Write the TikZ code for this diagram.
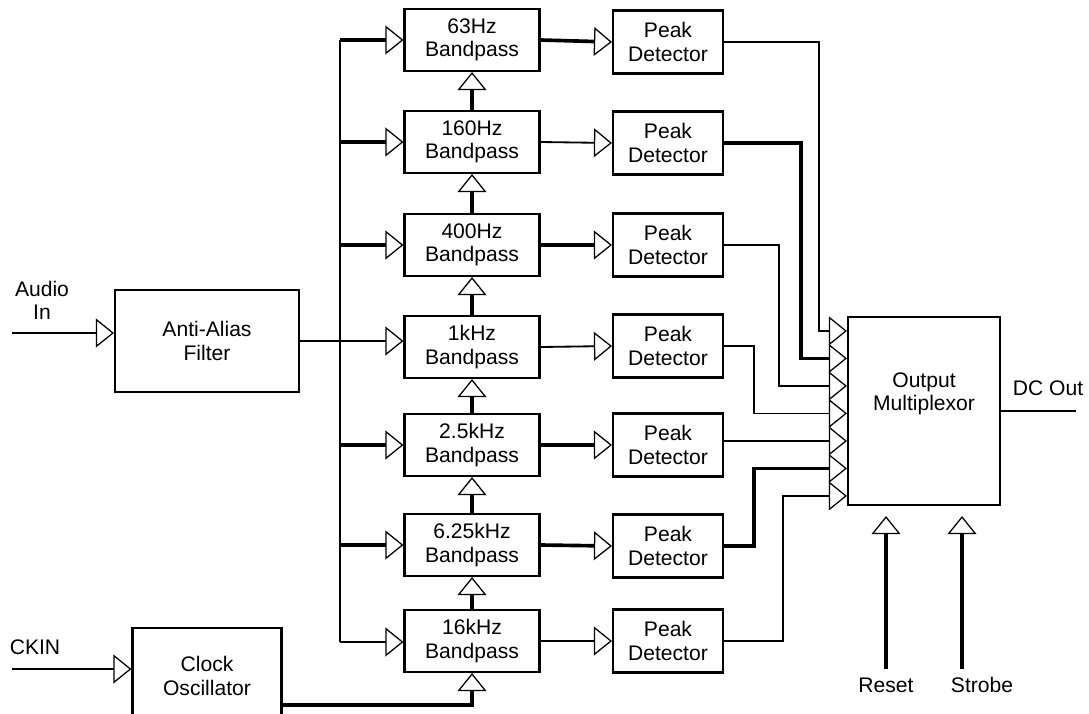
\documentclass[tikz,border=0pt]{standalone}
\usepackage{fontspec}
\setmainfont{Liberation Sans}
\usetikzlibrary{arrows.meta, calc}

\begin{document}
\begin{tikzpicture}[
    x=0.025cm, y=-0.025cm,
    box/.style={draw, line width=1.5pt, inner sep=0pt, align=center,
                font=\fontsize{15}{16.5}\selectfont},
    band/.style={box, minimum width=3.375cm, minimum height=1.55cm},
    peak/.style={box, minimum width=2.75cm, minimum height=1.575cm},
    lbl/.style={inner sep=0pt, align=center, font=\fontsize{15}{16.5}\selectfont},
    wire/.style={line width=1.3pt},
    bold wire/.style={line width=2.6pt},
    >={Triangle[open, length=0.45cm, width=0.72cm, line width=0.9pt]}
  ]
  \useasboundingbox (0,0) rectangle (1089,713);
  \clip (0,0) rectangle (1089,713);

  % filter bank
  \node[band] (b63)   at (472,40)  {63Hz\\Bandpass};
  \node[band] (b160)  at (472,142) {160Hz\\Bandpass};
  \node[band] (b400)  at (472,245) {400Hz\\Bandpass};
  \node[band] (b1k)   at (472,347) {1kHz\\Bandpass};
  \node[band] (b2k5)  at (472,445) {2.5kHz\\Bandpass};
  \node[band] (b6k25) at (472,545) {6.25kHz\\Bandpass};
  \node[band] (b16k)  at (472,641) {16kHz\\Bandpass};

  \node[peak] (p63)   at (668,42)  {Peak\\Detector};
  \node[peak] (p160)  at (668,143) {Peak\\Detector};
  \node[peak] (p400)  at (668,245) {Peak\\Detector};
  \node[peak] (p1k)   at (668,346) {Peak\\Detector};
  \node[peak] (p2k5)  at (668,445) {Peak\\Detector};
  \node[peak] (p6k25) at (668,546) {Peak\\Detector};
  \node[peak] (p16k)  at (668,641) {Peak\\Detector};

  \node[box, minimum width=4.6cm, minimum height=2.55cm] (filt) at (207,341) {Anti-Alias\\Filter};
  \node[box, minimum width=3.725cm, minimum height=2.4cm] (clk) at (207,676) {Clock\\Oscillator};
  \node[box, minimum width=3.8cm, minimum height=4.7cm] (mux) at (924,411) {Output\\Multiplexor\\[6pt]\strut};

  \node[lbl] (audio) at (42,300) {Audio\\In};
  \node[lbl] (ckinlbl) at (35,647) {CKIN};
  \node[lbl] (dclbl) at (1048,388) {DC Out};
  \node[lbl] (reset) at (886,685) {Reset};
  \node[lbl] (strobe) at (982,685) {Strobe};

  % inputs
  \coordinate (ain) at (12,333);
  \coordinate (ckin) at (12,669);
  \draw[wire, ->] (ain) -- (ain -| filt.west);
  \draw[wire, ->] (ckin) -- (ckin -| clk.west);
  \draw[wire, ->] (filt.east) -- (filt.east -| b1k.west);

  % clock bus
  \coordinate (bustop) at (340,40);
  \coordinate (busbot) at (340,642);
  \draw[wire] (bustop) -- (busbot);
  \draw[bold wire, ->] (bustop) -- (b63.west);
  \draw[bold wire, ->] (bustop |- b160.west) -- (b160.west);
  \draw[bold wire, ->] (bustop |- b400.west) -- (b400.west);
  \draw[bold wire, ->] (bustop |- b2k5.west) -- (b2k5.west);
  \draw[bold wire, ->] (bustop |- b6k25.west) -- (b6k25.west);
  \draw[wire, ->] (busbot) -- (busbot -| b16k.west);

  % clock chain
  \draw[bold wire, ->] ($(clk.north east)+(0,78)$) -| (b16k.south);
  \draw[bold wire, ->] (b16k.north) -- (b6k25.south);
  \draw[bold wire, ->] (b6k25.north) -- (b2k5.south);
  \draw[bold wire, ->] (b2k5.north) -- (b1k.south);
  \draw[bold wire, ->] (b1k.north) -- (b400.south);
  \draw[bold wire, ->] (b400.north) -- (b160.south);
  \draw[bold wire, ->] (b160.north) -- (b63.south);

  % bandpass to detector
  \draw[bold wire, ->] (b63.east) -- (p63.west);
  \draw[wire, ->] (b160.east) -- (p160.west);
  \draw[bold wire, ->] (b400.east) -- (p400.west);
  \draw[wire, ->] (b1k.east) -- (p1k.west);
  \draw[bold wire, ->] (b2k5.east) -- (p2k5.west);
  \draw[bold wire, ->] (b6k25.east) -- (p6k25.west);
  \draw[wire, ->] (b16k.east) -- (p16k.west);

  % multiplexor inputs
  \coordinate (m0) at ($(mux.north west)+(0,15)$);
  \coordinate (m1) at ($(mux.north west)+(0,42.5)$);
  \coordinate (m2) at ($(mux.north west)+(0,70)$);
  \coordinate (m3) at ($(mux.north west)+(0,97.5)$);
  \coordinate (m4) at ($(mux.north west)+(0,125)$);
  \coordinate (m5) at ($(mux.north west)+(0,152.5)$);
  \coordinate (m6) at ($(mux.north west)+(0,180)$);
  \draw[wire, ->] (p63.east) -- ++(95,0) |- (m0);
  \draw[bold wire, ->] (p160.east) -- ++(77,0) |- (m1);
  \draw[wire, ->] (p400.east) -- ++(55,0) |- (m2);
  \draw[wire, ->] (p1k.east) -- ++(30,0) |- (m3);
  \draw[wire, ->] (m4 -| p2k5.east) -- (m4);
  \draw[bold wire, ->] (p6k25.east) -- ++(30,0) |- (m5);
  \draw[wire, ->] (p16k.east) -- ++(59,0) |- (m6);

  % output and control
  \draw[wire] (mux.east) -- ++(75,0);
  \draw[bold wire, ->] ($(reset.north)+(0,-8)$) -- ($(mux.south)+(-38,10)$);
  \draw[bold wire, ->] ($(strobe.north)+(-20,-8)$) -- ($(mux.south)+(38,10)$);
\end{tikzpicture}
\end{document}
